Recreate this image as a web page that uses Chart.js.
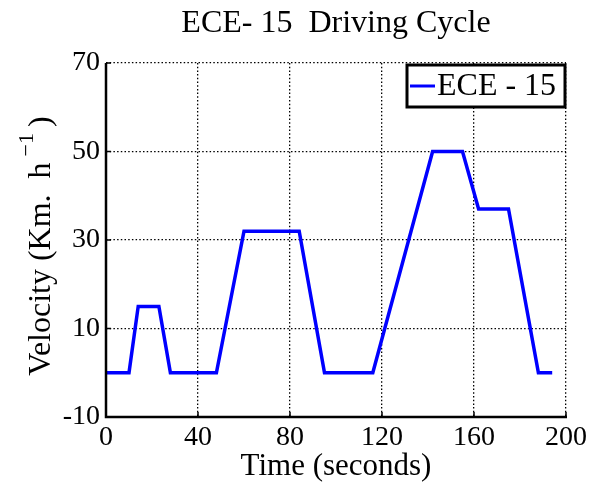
<!DOCTYPE html>
<html lang="en">
<head>
<meta charset="UTF-8">
<title>ECE-15 Driving Cycle</title>
<script src="https://cdn.jsdelivr.net/npm/chart.js"></script>
<style>
body {
margin: 0;
background-color: #ffffff;
}
.chart-container {
position: relative;
width: 592px;
height: 482px;
}
</style>
</head>
<body>
<div class="chart-container">
<canvas id="cycleChart"></canvas>
</div>
<script>
// ECE-15 urban cycle: time (s) against velocity (km/h)
const timeSec = [0, 10, 14, 23, 28, 48, 60, 84, 95, 116, 142, 155, 162, 175, 188, 194];
const velocityKmh = [0, 0, 15, 15, 0, 0, 32, 32, 0, 0, 50, 50, 37, 37, 0, 0];

const xTicks = [0, 40, 80, 120, 160, 200];
const yTicks = [-10, 10, 30, 50, 70];

const seriesLabel = 'ECE - 15';
const chartTitle = 'ECE- 15  Driving Cycle';
const xTitle = 'Time (seconds)';

const SERIF = '"Liberation Serif", "Times New Roman", serif';
const DOTS = [1.5, 2.2];

// title, y label with superscript, inward ticks, solid axes and boxed legend
const decorations = {
  id: 'decorations',
  afterDraw(chart) {
    const { ctx, chartArea: a, scales } = chart;
    ctx.save();
    ctx.fillStyle = '#000';
    ctx.strokeStyle = '#000';

    ctx.font = `32px ${SERIF}`;
    ctx.textAlign = 'center';
    ctx.textBaseline = 'alphabetic';
    ctx.fillText(chartTitle, (a.left + a.right) / 2, 32);

    // solid left and bottom axis lines
    ctx.lineWidth = 2.5;
    ctx.beginPath();
    ctx.moveTo(a.left, a.top);
    ctx.lineTo(a.left, a.bottom);
    ctx.lineTo(a.right + 1, a.bottom);
    ctx.stroke();

    ctx.lineWidth = 1.5;
    ctx.beginPath();
    xTicks.forEach(v => {
      const px = scales.x.getPixelForValue(v);
      ctx.moveTo(px, a.bottom);
      ctx.lineTo(px, a.bottom - 5);
    });
    yTicks.forEach(v => {
      const py = scales.y.getPixelForValue(v);
      ctx.moveTo(a.left, py);
      ctx.lineTo(a.left + 5, py);
    });
    ctx.stroke();

    // y axis label: Velocity (Km. h^-1)
    const main = 'Velocity (Km.  h';
    const sup = '\u22121';
    const close = ')';
    ctx.font = `32px ${SERIF}`;
    const w1 = ctx.measureText(main).width;
    const w3 = ctx.measureText(close).width;
    ctx.font = `22px ${SERIF}`;
    const w2 = ctx.measureText(sup).width;
    const gap = 6;
    const total = w1 + gap + w2 + gap + w3;
    ctx.save();
    ctx.translate(50, (a.top + a.bottom) / 2 + 6);
    ctx.rotate(-Math.PI / 2);
    ctx.textAlign = 'left';
    let x0 = -total / 2;
    ctx.font = `32px ${SERIF}`;
    ctx.fillText(main, x0, 0);
    x0 += w1 + gap;
    ctx.font = `22px ${SERIF}`;
    ctx.fillText(sup, x0, -17);
    x0 += w2 + gap;
    ctx.font = `32px ${SERIF}`;
    ctx.fillText(close, x0, 0);
    ctx.restore();

    // legend box in the top right corner
    const ds = chart.data.datasets[0];
    const lw = 158, lh = 42;
    const lx = a.right - lw - 1, ly = a.top + 2;
    ctx.fillStyle = '#ffffff';
    ctx.fillRect(lx, ly, lw, lh);
    ctx.lineWidth = 3;
    ctx.strokeStyle = '#000';
    ctx.strokeRect(lx, ly, lw, lh);
    ctx.strokeStyle = ds.borderColor;
    ctx.lineWidth = 3;
    ctx.beginPath();
    ctx.moveTo(lx + 3, ly + 21);
    ctx.lineTo(lx + 28, ly + 21);
    ctx.stroke();
    ctx.fillStyle = '#000';
    ctx.font = `32px ${SERIF}`;
    ctx.textAlign = 'left';
    ctx.fillText(ds.label, lx + 30, ly + 30);

    ctx.restore();
  }
};

const ctx = document.getElementById('cycleChart').getContext('2d');

new Chart(ctx, {
  type: 'line',
  data: {
    datasets: [{
      label: seriesLabel,
      data: timeSec.map((t, i) => ({ x: t, y: velocityKmh[i] })),
      borderColor: '#0000ff',
      borderWidth: 3.5,
      borderJoinStyle: 'miter',
      pointRadius: 0,
      fill: false,
      tension: 0
    }]
  },
  options: {
    responsive: true,
    maintainAspectRatio: false,
    animation: false,
    layout: {
      padding: { top: 63, right: 26, bottom: 0, left: 0 }
    },
    plugins: {
      legend: { display: false },
      title: { display: false },
      tooltip: { enabled: false }
    },
    scales: {
      x: {
        type: 'linear',
        min: 0,
        max: 200,
        afterBuildTicks: scale => { scale.ticks = xTicks.map(v => ({ value: v })); },
        afterFit: scale => { scale.height = 65; },
        grid: { color: '#000', lineWidth: 1.3, drawTicks: false, borderDash: DOTS },
        border: { display: false, dash: DOTS },
        ticks: {
          color: '#000',
          padding: 4,
          font: { family: SERIF, size: 28 }
        },
        title: {
          display: true,
          text: xTitle,
          color: '#000',
          padding: 0,
          font: { family: SERIF, size: 31, lineHeight: 1 }
        }
      },
      y: {
        type: 'linear',
        min: -10,
        max: 70,
        afterBuildTicks: scale => { scale.ticks = yTicks.map(v => ({ value: v })); },
        afterFit: scale => { scale.width = 106; },
        grid: { color: '#000', lineWidth: 1.3, drawTicks: false, borderDash: DOTS },
        border: { display: false, dash: DOTS },
        ticks: {
          color: '#000',
          padding: 6,
          font: { family: SERIF, size: 28 }
        }
      }
    }
  },
  plugins: [decorations]
});
</script>
</body>
</html>
